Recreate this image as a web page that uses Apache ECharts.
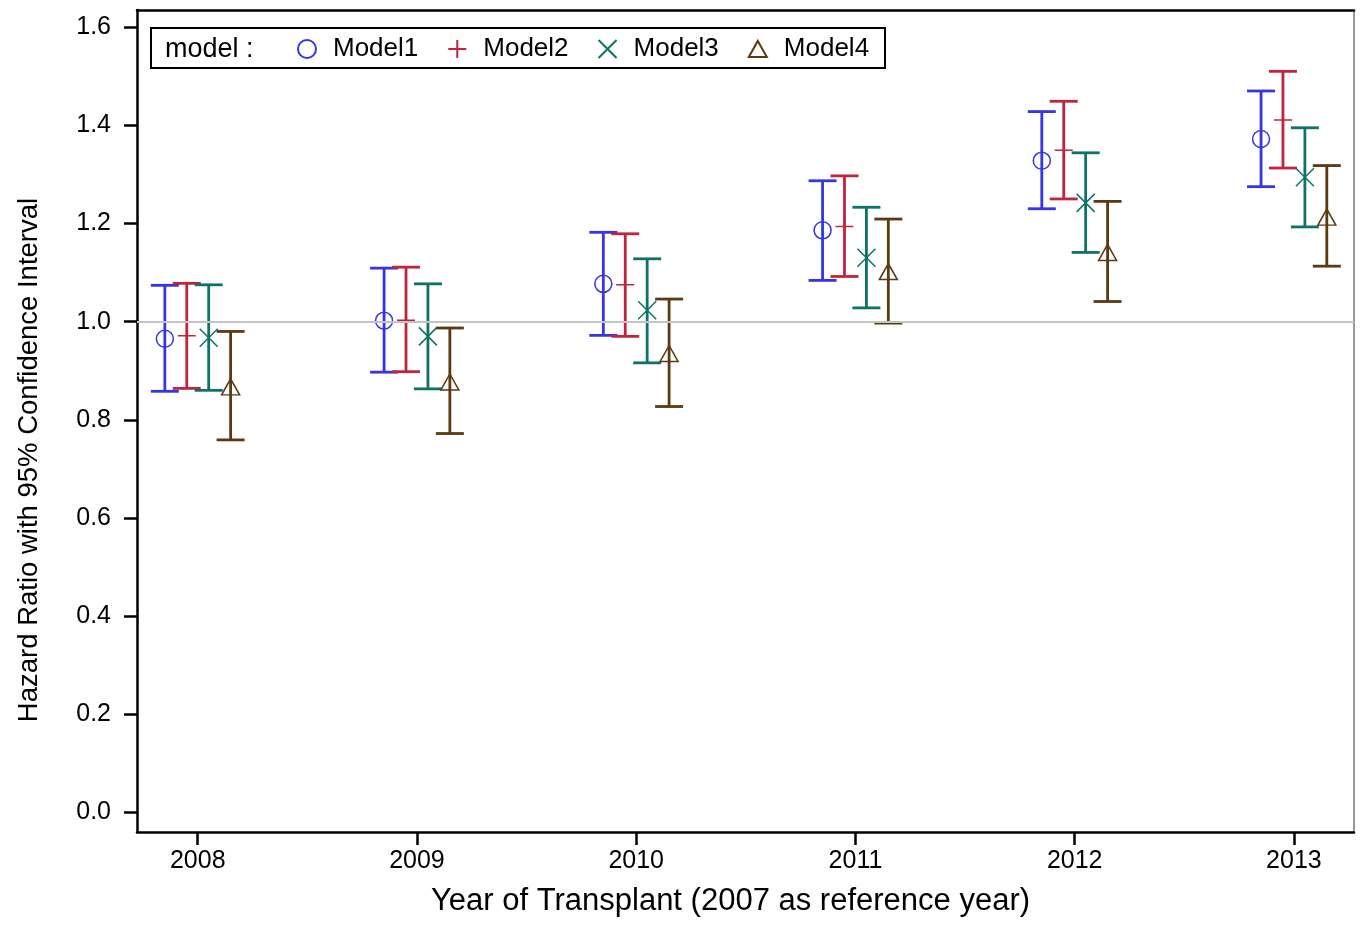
<!DOCTYPE html>
<html>
<head>
<meta charset="utf-8">
<script src="https://cdn.jsdelivr.net/npm/echarts@6/dist/echarts.min.js"></script>
<style>
html,body{margin:0;padding:0;background:#fff;}
#chart{width:1363px;height:925px;}
</style>
</head>
<body>
<div id="chart"></div>
<script>
// ---- data ----
const years = [2008, 2009, 2010, 2011, 2012, 2013];
const modelNames = ['Model1', 'Model2', 'Model3', 'Model4'];

const m1Est  = [0.965, 1.002, 1.077, 1.186, 1.328, 1.372];
const m1Low  = [0.858, 0.897, 0.972, 1.084, 1.230, 1.275];
const m1High = [1.074, 1.109, 1.182, 1.287, 1.428, 1.470];

const m2Est  = [0.971, 1.003, 1.075, 1.194, 1.349, 1.411];
const m2Low  = [0.864, 0.898, 0.970, 1.092, 1.250, 1.313];
const m2High = [1.078, 1.111, 1.179, 1.297, 1.449, 1.510];

const m3Est  = [0.967, 0.970, 1.023, 1.130, 1.242, 1.294];
const m3Low  = [0.860, 0.863, 0.916, 1.028, 1.141, 1.193];
const m3High = [1.075, 1.077, 1.128, 1.233, 1.344, 1.395];

const m4Est  = [0.867, 0.877, 0.935, 1.102, 1.141, 1.213];
const m4Low  = [0.759, 0.772, 0.827, 0.997, 1.041, 1.113];
const m4High = [0.980, 0.987, 1.046, 1.209, 1.245, 1.318];

const yTicks = [0, 0.2, 0.4, 0.6, 0.8, 1.0, 1.2, 1.4, 1.6];
const refValue = 1.0;

// ---- styling / layout (not data) ----
const colors = ['#3535e6', '#c0243e', '#0e7366', '#5b3a12'];
const dodge = [-0.15, -0.05, 0.05, 0.15];
const font = '"Liberation Sans", Arial, Helvetica, sans-serif';
const symbols = [
  'path://M1,0A1,1,0,1,1,-1,0A1,1,0,1,1,1,0Z',
  'path://M0,-1L0,1M-1,0L1,0',
  'path://M-1,-1L1,1M-1,1L1,-1',
  'path://M0,-1L1,0.8L-1,0.8Z'
];
const symbolSizes = [17, 18, 18, [18, 16]];

const ests = [m1Est, m2Est, m3Est, m4Est];
const lows = [m1Low, m2Low, m3Low, m4Low];
const highs = [m1High, m2High, m3High, m4High];

const series = [];
// reference line
series.push({
  type: 'line', name: 'ref', data: [], z: 1, silent: true,
  markLine: {
    silent: true, symbol: 'none', animation: false,
    label: { show: false },
    lineStyle: { color: '#c4c4c4', width: 2, type: 'solid' },
    data: [{ yAxis: refValue }]
  }
});

modelNames.forEach((name, i) => {
  const color = colors[i];
  series.push({
    type: 'custom',
    name: name + ' CI',
    z: 2,
    encode: { x: 0, y: [1, 2] },
    data: years.map((y, k) => [y + dodge[i], lows[i][k], highs[i][k]]),
    renderItem: function (params, api) {
      const x = api.value(0);
      const pLo = api.coord([x, api.value(1)]);
      const pHi = api.coord([x, api.value(2)]);
      const hw = 14;
      const st = { stroke: color, lineWidth: 2.8 };
      return {
        type: 'group',
        children: [
          { type: 'line', shape: { x1: pLo[0], y1: pLo[1], x2: pHi[0], y2: pHi[1] }, style: st },
          { type: 'line', shape: { x1: pLo[0] - hw, y1: pLo[1], x2: pLo[0] + hw, y2: pLo[1] }, style: st },
          { type: 'line', shape: { x1: pHi[0] - hw, y1: pHi[1], x2: pHi[0] + hw, y2: pHi[1] }, style: st }
        ]
      };
    }
  });
  series.push({
    type: 'scatter',
    name: name,
    z: 3,
    symbol: symbols[i],
    symbolSize: symbolSizes[i],
    itemStyle: { color: 'rgba(0,0,0,0)', borderColor: color, borderWidth: 1.5, opacity: 1 },
    data: years.map((y, k) => [y + dodge[i], ests[i][k]])
  });
});

const chart = echarts.init(document.getElementById('chart'), null, { renderer: 'canvas' });
chart.setOption({
  animation: false,
  backgroundColor: '#fff',
  textStyle: { fontFamily: font },
  grid: { left: 137, right: 9, top: 10, bottom: 93, containLabel: false },
  graphic: [
    {
      type: 'rect', z: 10,
      shape: { x: 151, y: 28, width: 734, height: 40 },
      style: { fill: 'rgba(0,0,0,0)', stroke: '#000', lineWidth: 2 }
    },
    {
      type: 'text', z: 10, left: 165, top: 36,
      style: { text: 'model :', fontSize: 27, fontFamily: font, fill: '#000' }
    }
  ],
  legend: {
    data: modelNames,
    left: 292, top: 31,
    itemWidth: 18, itemHeight: 18, itemGap: 29,
    textStyle: { fontSize: 26, fontFamily: font, color: '#000', padding: [0, 0, 0, 12] },
    selectedMode: false
  },
  xAxis: [
    {
      type: 'value', min: 2007.723, max: 2013.274,
      name: 'Year of Transplant (2007 as reference year)',
      nameLocation: 'middle', nameGap: 54,
      nameTextStyle: { fontSize: 31, color: '#000', fontFamily: font, padding: [0, 30, 0, 0] },
      axisLine: { show: true, onZero: false, lineStyle: { color: '#000', width: 2.5 } },
      axisTick: { show: true, length: 13, customValues: years, lineStyle: { color: '#000', width: 2.5 } },
      axisLabel: { customValues: years, fontSize: 25, color: '#000', margin: 17, fontFamily: font,
                   formatter: v => String(v) },
      splitLine: { show: false }
    },
    {
      type: 'value', position: 'top', min: 0, max: 1,
      axisLine: { show: true, onZero: false, lineStyle: { color: '#000', width: 2.5 } },
      axisTick: { show: false }, axisLabel: { show: false }, splitLine: { show: false }
    }
  ],
  yAxis: [
    {
      type: 'value', min: -0.04, max: 1.635,
      name: 'Hazard Ratio with 95% Confidence Interval',
      nameLocation: 'middle', nameGap: 94,
      nameTextStyle: { fontSize: 27.5, color: '#000', fontFamily: font, padding: [0, 78, 0, 0] },
      axisLine: { show: true, onZero: false, lineStyle: { color: '#000', width: 2.5 } },
      axisTick: { show: true, length: 13, customValues: yTicks, lineStyle: { color: '#000', width: 2.5 } },
      axisLabel: { customValues: yTicks, fontSize: 25, color: '#000', margin: 26, fontFamily: font,
                   formatter: v => v.toFixed(1) },
      splitLine: { show: false }
    },
    {
      type: 'value', position: 'right', min: 0, max: 1,
      axisLine: { show: true, onZero: false, lineStyle: { color: '#777', width: 1.5 } },
      axisTick: { show: false }, axisLabel: { show: false }, splitLine: { show: false }
    }
  ],
  series: series
});
</script>
</body>
</html>
